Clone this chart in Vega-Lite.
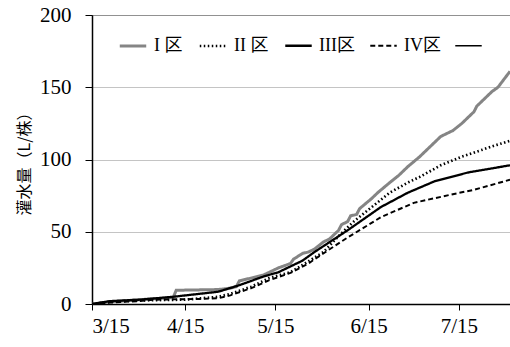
{
  "$schema": "https://vega.github.io/schema/vega-lite/v6.json",
  "width": 418,
  "height": 289,
  "autosize": "none",
  "padding": {"left": 92, "top": 15, "right": 0, "bottom": 43},
  "background": "white",
  "config": {"view": {"stroke": null}},
  "data": {
    "values": [
      {"date": "2021-03-15", "s": "I 区", "v": 0},
      {"date": "2021-03-21", "s": "I 区", "v": 1.5},
      {"date": "2021-03-31", "s": "I 区", "v": 3},
      {"date": "2021-04-11", "s": "I 区", "v": 4.5},
      {"date": "2021-04-12", "s": "I 区", "v": 9.5},
      {"date": "2021-04-26", "s": "I 区", "v": 10},
      {"date": "2021-04-30", "s": "I 区", "v": 11},
      {"date": "2021-05-02", "s": "I 区", "v": 12},
      {"date": "2021-05-03", "s": "I 区", "v": 16},
      {"date": "2021-05-11", "s": "I 区", "v": 20},
      {"date": "2021-05-16", "s": "I 区", "v": 25},
      {"date": "2021-05-20", "s": "I 区", "v": 28},
      {"date": "2021-05-21", "s": "I 区", "v": 31},
      {"date": "2021-05-24", "s": "I 区", "v": 35},
      {"date": "2021-05-26", "s": "I 区", "v": 36},
      {"date": "2021-05-28", "s": "I 区", "v": 38},
      {"date": "2021-05-31", "s": "I 区", "v": 43},
      {"date": "2021-06-02", "s": "I 区", "v": 45},
      {"date": "2021-06-05", "s": "I 区", "v": 51},
      {"date": "2021-06-06", "s": "I 区", "v": 55},
      {"date": "2021-06-08", "s": "I 区", "v": 57},
      {"date": "2021-06-09", "s": "I 区", "v": 61},
      {"date": "2021-06-11", "s": "I 区", "v": 62},
      {"date": "2021-06-12", "s": "I 区", "v": 66},
      {"date": "2021-06-16", "s": "I 区", "v": 73},
      {"date": "2021-06-18", "s": "I 区", "v": 77},
      {"date": "2021-06-22", "s": "I 区", "v": 84},
      {"date": "2021-06-25", "s": "I 区", "v": 89},
      {"date": "2021-06-28", "s": "I 区", "v": 95},
      {"date": "2021-07-02", "s": "I 区", "v": 102},
      {"date": "2021-07-06", "s": "I 区", "v": 110},
      {"date": "2021-07-09", "s": "I 区", "v": 116},
      {"date": "2021-07-13", "s": "I 区", "v": 120},
      {"date": "2021-07-16", "s": "I 区", "v": 125},
      {"date": "2021-07-20", "s": "I 区", "v": 133},
      {"date": "2021-07-21", "s": "I 区", "v": 137},
      {"date": "2021-07-26", "s": "I 区", "v": 147},
      {"date": "2021-07-28", "s": "I 区", "v": 150},
      {"date": "2021-08-01", "s": "I 区", "v": 161},

      {"date": "2021-03-15", "s": "II 区", "v": 0},
      {"date": "2021-03-21", "s": "II 区", "v": 1.5},
      {"date": "2021-03-31", "s": "II 区", "v": 2.5},
      {"date": "2021-04-15", "s": "II 区", "v": 3},
      {"date": "2021-04-26", "s": "II 区", "v": 5},
      {"date": "2021-04-30", "s": "II 区", "v": 7},
      {"date": "2021-05-07", "s": "II 区", "v": 12},
      {"date": "2021-05-13", "s": "II 区", "v": 18},
      {"date": "2021-05-20", "s": "II 区", "v": 22},
      {"date": "2021-05-24", "s": "II 区", "v": 27},
      {"date": "2021-05-31", "s": "II 区", "v": 36},
      {"date": "2021-06-05", "s": "II 区", "v": 47},
      {"date": "2021-06-10", "s": "II 区", "v": 57},
      {"date": "2021-06-16", "s": "II 区", "v": 67},
      {"date": "2021-06-22", "s": "II 区", "v": 77},
      {"date": "2021-06-28", "s": "II 区", "v": 84},
      {"date": "2021-07-02", "s": "II 区", "v": 88},
      {"date": "2021-07-09", "s": "II 区", "v": 96},
      {"date": "2021-07-16", "s": "II 区", "v": 102},
      {"date": "2021-07-26", "s": "II 区", "v": 109},
      {"date": "2021-08-01", "s": "II 区", "v": 113},

      {"date": "2021-03-15", "s": "III区", "v": 0},
      {"date": "2021-03-21", "s": "III区", "v": 2},
      {"date": "2021-03-31", "s": "III区", "v": 3},
      {"date": "2021-04-11", "s": "III区", "v": 5},
      {"date": "2021-04-26", "s": "III区", "v": 8.5},
      {"date": "2021-05-03", "s": "III区", "v": 13},
      {"date": "2021-05-11", "s": "III区", "v": 19},
      {"date": "2021-05-16", "s": "III区", "v": 22},
      {"date": "2021-05-24", "s": "III区", "v": 30},
      {"date": "2021-05-28", "s": "III区", "v": 36},
      {"date": "2021-06-08", "s": "III区", "v": 51},
      {"date": "2021-06-19", "s": "III区", "v": 67},
      {"date": "2021-06-28", "s": "III区", "v": 77},
      {"date": "2021-07-07", "s": "III区", "v": 85},
      {"date": "2021-07-18", "s": "III区", "v": 91},
      {"date": "2021-08-01", "s": "III区", "v": 96},

      {"date": "2021-03-15", "s": "IV区", "v": 0},
      {"date": "2021-03-21", "s": "IV区", "v": 1},
      {"date": "2021-03-31", "s": "IV区", "v": 2},
      {"date": "2021-04-05", "s": "IV区", "v": 3},
      {"date": "2021-04-20", "s": "IV区", "v": 3.5},
      {"date": "2021-04-26", "s": "IV区", "v": 4},
      {"date": "2021-04-30", "s": "IV区", "v": 6},
      {"date": "2021-05-07", "s": "IV区", "v": 11},
      {"date": "2021-05-13", "s": "IV区", "v": 16.5},
      {"date": "2021-05-20", "s": "IV区", "v": 21.5},
      {"date": "2021-05-26", "s": "IV区", "v": 28},
      {"date": "2021-05-28", "s": "IV区", "v": 31},
      {"date": "2021-06-08", "s": "IV区", "v": 46},
      {"date": "2021-06-19", "s": "IV区", "v": 60},
      {"date": "2021-06-30", "s": "IV区", "v": 70},
      {"date": "2021-07-13", "s": "IV区", "v": 76},
      {"date": "2021-07-20", "s": "IV区", "v": 79},
      {"date": "2021-08-01", "s": "IV区", "v": 86}
    ]
  },
  "mark": {"type": "line", "clip": true},
  "encoding": {
    "x": {
      "field": "date",
      "type": "temporal",
      "scale": {
        "type": "utc",
        "domain": [
          {"year": 2021, "month": 3, "date": 15, "utc": true},
          {"year": 2021, "month": 8, "date": 1, "utc": true}
        ]
      },
      "axis": {
        "title": null,
        "values": [
          {"year": 2021, "month": 3, "date": 15, "utc": true},
          {"year": 2021, "month": 4, "date": 15, "utc": true},
          {"year": 2021, "month": 5, "date": 15, "utc": true},
          {"year": 2021, "month": 6, "date": 15, "utc": true},
          {"year": 2021, "month": 7, "date": 15, "utc": true}
        ],
        "labelExpr": "utcFormat(datum.value, '%-m/%-d')",
        "grid": false,
        "domainColor": "black",
        "domainWidth": 1.5,
        "tickColor": "black",
        "tickSize": 6,
        "labelFont": "Liberation Serif",
        "labelFontSize": 21,
        "labelColor": "black",
        "labelPadding": 5
      }
    },
    "y": {
      "field": "v",
      "type": "quantitative",
      "scale": {"domain": [0, 200], "nice": false},
      "axis": {
        "title": "灌水量（L/株）",
        "titleFont": "Noto Sans CJK JP",
        "titleFontSize": 16,
        "titleFontWeight": "normal",
        "titleColor": "black",
        "titlePadding": 7,
        "values": [0, 50, 100, 150, 200],
        "grid": true,
        "gridDash": [1, 1],
        "gridColor": {"condition": {"test": "datum.value === 200", "value": "#222"}, "value": "#888"},
        "gridWidth": 1,
        "domainColor": "black",
        "domainWidth": 1.5,
        "tickColor": "black",
        "tickSize": 7,
        "labelFont": "Liberation Serif",
        "labelFontSize": 21,
        "labelColor": "black",
        "labelPadding": 14
      }
    },
    "color": {
      "field": "s",
      "type": "nominal",
      "scale": {
        "domain": ["I 区", "II 区", "III区", "IV区", "V"],
        "range": ["#858585", "black", "black", "black", "black"]
      },
      "legend": {
        "title": null,
        "orient": "none",
        "legendX": 26,
        "legendY": 16,
        "direction": "horizontal",
        "symbolType": "stroke",
        "symbolSize": 700,
        "labelFont": "Liberation Serif, Noto Sans CJK JP",
        "labelFontSize": 18,
        "labelColor": "black",
        "labelExpr": "datum.label === 'V' ? '' : datum.label",
        "columnPadding": 11,
        "labelOffset": 6
      }
    },
    "strokeDash": {
      "field": "s",
      "type": "nominal",
      "scale": {
        "domain": ["I 区", "II 区", "III区", "IV区", "V"],
        "range": [[1, 0], [1.5, 2.5], [1, 0], [5, 3], [1, 0]]
      },
      "legend": null
    },
    "strokeWidth": {
      "field": "s",
      "type": "nominal",
      "scale": {
        "domain": ["I 区", "II 区", "III区", "IV区", "V"],
        "range": [3, 1.6, 3, 1.6, 1.2]
      },
      "legend": null
    }
  }
}
